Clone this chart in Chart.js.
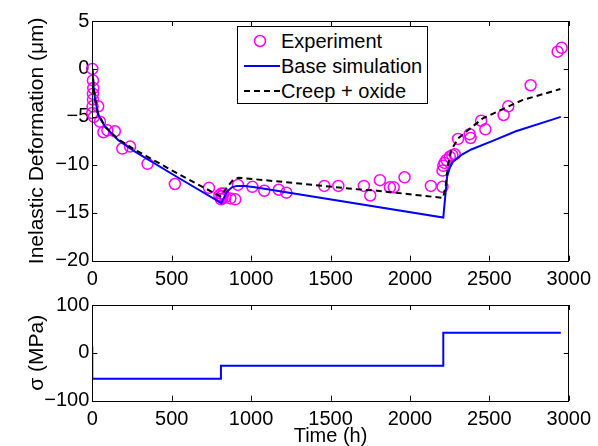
<!DOCTYPE html>
<html>
<head>
<meta charset="utf-8">
<script src="https://cdn.jsdelivr.net/npm/chart.js@4"></script>
<style>
    body { margin: 0; background: #fff; }
    #wrap { position: relative; width: 598px; height: 446px; font-family: "Liberation Sans", Arial, sans-serif; }
    #topBox { position: absolute; left: 0; top: 0; width: 598px; height: 290px; }
    #botBox { position: absolute; left: 0; top: 290px; width: 598px; height: 156px; }
    #legend {
        position: absolute; left: 237px; top: 26px; width: 189px; height: 76px;
        border: 1px solid #000; background: #fff; font-size: 20px; color: #000;
    }
    .row { position: absolute; left: 0; height: 24px; line-height: 24px; }
    .row svg { position: absolute; left: 6px; top: 0; }
    .row span { position: absolute; left: 43px; white-space: nowrap; }
</style>
</head>
<body>
<div id="wrap">
    <div id="topBox"><canvas id="chartDeform" width="598" height="290"></canvas></div>
    <div id="botBox"><canvas id="chartStress" width="598" height="156"></canvas></div>
    <div id="legend">
        <div class="row" style="top:2px">
            <svg width="36" height="24"><circle cx="16" cy="12" r="5.5" fill="none" stroke="#ff00ff" stroke-width="1.5"/></svg>
            <span>Experiment</span>
        </div>
        <div class="row" style="top:27px">
            <svg width="36" height="24"><line x1="0" y1="12" x2="36" y2="12" stroke="#0000ff" stroke-width="2"/></svg>
            <span>Base simulation</span>
        </div>
        <div class="row" style="top:52px">
            <svg width="36" height="24"><line x1="0" y1="12" x2="36" y2="12" stroke="#000" stroke-width="2" stroke-dasharray="6,4"/></svg>
            <span>Creep + oxide</span>
        </div>
    </div>
</div>
<script>
// experiment (time h, deformation um)
const expTime = [0, 4, 6, 4, 4, 2, 0, 10, 37, 48, 70, 95, 142, 189, 238, 348, 520, 735,
    800, 811, 812, 815, 820, 825, 838, 869, 900, 917, 1008, 1083, 1174, 1222, 1461, 1549,
    1710, 1750, 1811, 1874, 1898, 1966, 2132, 2205, 2205, 2210, 2218, 2230, 2251, 2267, 2282,
    2303, 2376, 2382, 2448, 2475, 2590, 2619, 2760, 2930, 2955];
const expDef = [0, -1.2, -2.0, -2.6, -3.2, -3.9, -4.6, -5.0, -3.9, -5.5, -6.6, -6.4, -6.5, -8.3, -8.1, -9.9, -12.0, -12.4,
    -13.2, -13.6, -13.0, -13.3, -13.5, -13.0, -13.4, -13.5, -13.6, -12.1, -12.3, -12.7, -12.6, -12.9, -12.2, -12.2,
    -12.2, -13.2, -11.6, -12.35, -12.35, -11.3, -12.2, -12.3, -10.6, -10.1, -9.8, -9.5, -9.15, -9.0, -8.9,
    -7.3, -6.8, -7.2, -5.4, -6.3, -4.8, -3.9, -1.7, 1.8, 2.2];

// base simulation
const baseTime = [0, 8, 17, 37, 79, 162, 266, 547, 813, 827, 848, 879, 910, 960, 1025,
    2210, 2220, 2234, 2251, 2270, 2292, 2330, 2386, 2521, 2667, 2950];
const baseDef = [0, -1.8, -3.1, -4.8, -6.0, -7.4, -8.6, -11.4, -14.0, -13.5, -12.8, -12.35, -12.2, -12.2, -12.35,
    -15.5, -13.7, -11.25, -10.3, -9.7, -9.4, -8.9, -8.4, -7.5, -6.5, -5.0];

// creep + oxide
const creepTime = [0, 8, 15, 35, 80, 160, 266, 547, 807, 850, 890, 921, 1087, 1669, 1794,
    2209, 2226, 2240, 2261, 2303, 2365, 2459, 2708, 2947];
const creepDef = [0, -1.6, -2.8, -4.6, -6.0, -7.3, -8.4, -11.0, -13.3, -12.3, -11.5, -11.35, -11.6, -12.55, -12.7,
    -13.45, -12.1, -10.0, -8.45, -7.25, -6.4, -5.15, -3.25, -2.1];

// applied stress (MPa), step changes
const stressTime = [0, 0, 810, 2210, 2950];
const stressVal = [13, -54, -27, 42, 42];

const timeTicks = [0, 500, 1000, 1500, 2000, 2500, 3000];
const deformTicks = [-20, -15, -10, -5, 0, 5];
const stressTicks = [-100, 0, 100];

const FONT = "'Liberation Sans', Arial, sans-serif";
Chart.defaults.font.family = FONT;
Chart.defaults.color = "#000";

const toXY = (xs, ys) => xs.map((x, i) => ({ x: x, y: ys[i] }));
const minus = v => String(v).replace("-", "\u2212");

// matlab style box with inward ticks
const boxTicks = {
    id: "boxTicks",
    afterDatasetsDraw(chart) {
        const { ctx, chartArea: a, scales } = chart;
        const x = scales.x, y = scales.y;
        ctx.save();
        ctx.strokeStyle = "#000";
        ctx.lineWidth = 1;
        ctx.beginPath();
        x.ticks.forEach(t => {
            const px = Math.round(x.getPixelForValue(t.value)) + 0.5;
            ctx.moveTo(px, a.bottom); ctx.lineTo(px, a.bottom - 5);
            ctx.moveTo(px, a.top); ctx.lineTo(px, a.top + 5);
        });
        y.ticks.forEach(t => {
            const py = Math.round(y.getPixelForValue(t.value)) + 0.5;
            ctx.moveTo(a.left, py); ctx.lineTo(a.left + 5, py);
            ctx.moveTo(a.right, py); ctx.lineTo(a.right - 5, py);
        });
        ctx.stroke();
        ctx.strokeRect(Math.round(a.left) + 0.5, Math.round(a.top) + 0.5,
            Math.round(a.right - a.left), Math.round(a.bottom - a.top));
        ctx.restore();
    }
};

function xScale(height, title) {
    return {
        type: "linear",
        min: 0,
        max: 3000,
        afterBuildTicks: s => { s.ticks = timeTicks.map(v => ({ value: v })); },
        ticks: { font: { size: 20 }, padding: 7, maxRotation: 0, autoSkip: false, callback: v => String(v) },
        grid: { display: false, drawTicks: false },
        border: { display: false },
        title: title ? { display: true, text: title, font: { size: 20 }, padding: { top: 0, bottom: -2 } } : { display: false },
        afterFit: s => { s.height = height; }
    };
}

function yScale(min, max, tickList, title) {
    return {
        type: "linear",
        min: min,
        max: max,
        afterBuildTicks: s => { s.ticks = tickList.map(v => ({ value: v })); },
        ticks: { font: { size: 20 }, padding: 3, callback: v => minus(v) },
        grid: { display: false, drawTicks: false },
        border: { display: false },
        title: { display: true, text: title, font: { size: 21 }, padding: { top: 25, bottom: 0 } },
        afterFit: s => { s.width = 92.3; }
    };
}

new Chart(document.getElementById("chartDeform"), {
    type: "scatter",
    data: {
        datasets: [
            {
                label: "Experiment",
                data: toXY(expTime, expDef),
                showLine: false,
                pointStyle: "circle",
                pointRadius: 5.5,
                pointBorderWidth: 1.5,
                pointBorderColor: "#ff00ff",
                pointBackgroundColor: "rgba(0,0,0,0)",
                clip: false,
                order: 3
            },
            {
                label: "Base simulation",
                data: toXY(baseTime, baseDef),
                showLine: true,
                borderColor: "#0000ff",
                borderWidth: 2,
                pointRadius: 0,
                order: 2
            },
            {
                label: "Creep + oxide",
                data: toXY(creepTime, creepDef),
                showLine: true,
                borderColor: "#000",
                borderWidth: 2,
                borderDash: [6, 4],
                pointRadius: 0,
                order: 1
            }
        ]
    },
    options: {
        responsive: false,
        animation: false,
        layout: { padding: { top: 21, right: 24.5, left: 0, bottom: 0 } },
        plugins: { legend: { display: false }, tooltip: { enabled: false } },
        scales: {
            x: xScale(29.3, null),
            y: yScale(-20, 5, deformTicks, "Inelastic Deformation (\u03bcm)")
        }
    },
    plugins: [boxTicks]
});

new Chart(document.getElementById("chartStress"), {
    type: "scatter",
    data: {
        datasets: [{
            label: "Stress",
            data: toXY(stressTime, stressVal),
            showLine: true,
            stepped: "before",
            borderColor: "#0000ff",
            borderWidth: 2,
            pointRadius: 0
        }]
    },
    options: {
        responsive: false,
        animation: false,
        layout: { padding: { top: 9.3, right: 24.5, left: 0, bottom: 0 } },
        plugins: { legend: { display: false }, tooltip: { enabled: false } },
        scales: {
            x: xScale(45.3, "Time (h)"),
            y: yScale(-100, 100, stressTicks, "\u03c3 (MPa)")
        }
    },
    plugins: [boxTicks]
});
</script>
</body>
</html>
